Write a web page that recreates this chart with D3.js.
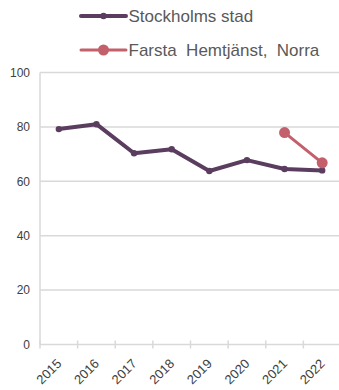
<!DOCTYPE html>
<html>
<head>
<meta charset="utf-8">
<script src="https://cdn.jsdelivr.net/npm/d3@7"></script>
<style>
  html, body { margin: 0; padding: 0; background: #fff; }
  svg { display: block; }
  svg text { font-family: "Liberation Sans", Arial, Helvetica, sans-serif; }
</style>
</head>
<body>
<svg id="chart" width="339" height="390"></svg>
<script>
// Years on the x axis
const years = ["2015", "2016", "2017", "2018", "2019", "2020", "2021", "2022"];
// Series values (null = no data for that year)
const stockholm = [79.2, 81.0, 70.3, 71.8, 63.8, 67.8, 64.5, 64.0];
const farsta = [null, null, null, null, null, null, 77.9, 66.8];
// Y axis ticks
const yTicks = [0, 20, 40, 60, 80, 100];

const seriesNames = ["Stockholms stad", "Farsta  Hemtjänst,  Norra"];
const seriesColors = ["#5b3d5f", "#c3606b"];

const svg = d3.select("#chart");
const plotLeft = 40, plotRight = 341, plotTop = 72.5, plotBottom = 344.5;

const x = d3.scaleBand().domain(years).range([plotLeft, plotRight]);
const y = d3.scaleLinear().domain([0, 100]).range([plotBottom, plotTop]);

// Horizontal gridlines
svg.append("g").selectAll("line").data(yTicks.filter(d => d > 0)).join("line")
  .attr("x1", plotLeft).attr("x2", plotRight)
  .attr("y1", d => y(d)).attr("y2", d => y(d))
  .attr("stroke", "#d9d9d9").attr("stroke-width", 1.5);

// Y axis labels
svg.append("g").selectAll("text").data(yTicks).join("text")
  .attr("x", plotLeft - 10).attr("y", d => y(d))
  .attr("dy", "0.35em").attr("text-anchor", "end")
  .attr("font-size", 12).attr("fill", "#404040")
  .text(d => d);

// Y axis line
svg.append("line")
  .attr("x1", plotLeft).attr("x2", plotLeft).attr("y1", plotTop).attr("y2", plotBottom)
  .attr("stroke", "#d9d9d9").attr("stroke-width", 1.5);

// X axis line and ticks at band boundaries
svg.append("line")
  .attr("x1", plotLeft).attr("x2", plotRight).attr("y1", plotBottom).attr("y2", plotBottom)
  .attr("stroke", "#d9d9d9").attr("stroke-width", 1.5);
svg.append("g").selectAll("line").data(years).join("line")
  .attr("x1", d => x(d)).attr("x2", d => x(d))
  .attr("y1", plotBottom - 4).attr("y2", plotBottom + 4)
  .attr("stroke", "#d9d9d9").attr("stroke-width", 1.5);

// Rotated year labels
svg.append("g").selectAll("text").data(years).join("text")
  .attr("transform", d => `translate(${x(d) + x.bandwidth() / 2 + 3.5},${plotBottom + 20}) rotate(-45)`)
  .attr("text-anchor", "end")
  .attr("font-size", 13).attr("fill", "#404040")
  .text(d => d);

const line = d3.line()
  .defined(d => d.v != null)
  .x(d => x(d.year) + x.bandwidth() / 2)
  .y(d => y(d.v));

function drawSeries(values, color, width, r) {
  const pts = years.map((year, i) => ({ year, v: values[i] }));
  svg.append("path").datum(pts)
    .attr("d", line).attr("fill", "none")
    .attr("stroke", color).attr("stroke-width", width)
    .attr("stroke-linejoin", "round");
  svg.append("g").selectAll("circle").data(pts.filter(d => d.v != null)).join("circle")
    .attr("cx", d => x(d.year) + x.bandwidth() / 2)
    .attr("cy", d => y(d.v)).attr("r", r)
    .attr("fill", color);
}

drawSeries(stockholm, seriesColors[0], 4, 3.2);
drawSeries(farsta, seriesColors[1], 3, 5.5);

// Legend
const legend = svg.append("g");
[[16, 4, 3.2], [50, 3, 5.5]].forEach(([ly, w, r], i) => {
  legend.append("line")
    .attr("x1", 81).attr("x2", 126).attr("y1", ly).attr("y2", ly)
    .attr("stroke", seriesColors[i]).attr("stroke-width", w)
    .attr("stroke-linecap", "round");
  legend.append("circle").attr("cx", 103.5).attr("cy", ly).attr("r", r)
    .attr("fill", seriesColors[i]);
  legend.append("text")
    .attr("x", 128.5).attr("y", ly).attr("dy", "0.35em")
    .attr("font-size", 17).attr("fill", "#595959")
    .style("white-space", "pre")
    .text(seriesNames[i]);
});
</script>
</body>
</html>
